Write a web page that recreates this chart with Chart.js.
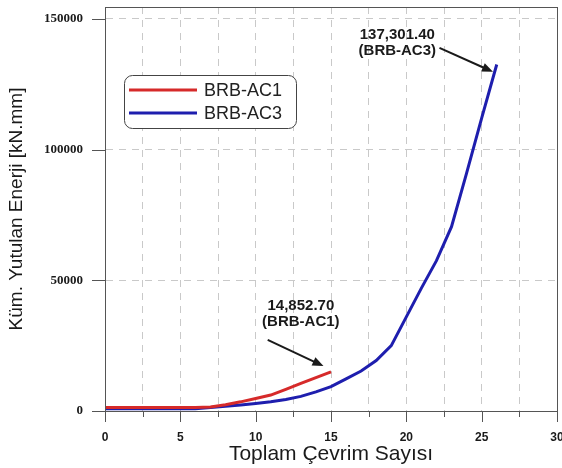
<!DOCTYPE html>
<html>
<head>
<meta charset="utf-8">
<script src="https://cdn.jsdelivr.net/npm/chart.js@4.4.0/dist/chart.umd.min.js"></script>
<style>
    html, body { margin: 0; padding: 0; background: #fff; }
    #wrap { width: 562px; height: 468px; }
</style>
</head>
<body>
<div id="wrap"><canvas id="energyChart" width="562" height="468"></canvas></div>
<script>
// values (kN.mm)
const cycles_ac1 = [0, 1, 2, 3, 4, 5, 6, 7, 8, 9, 10, 11, 12, 13, 14, 15]
const energy_ac1 = [1300, 1300, 1300, 1300, 1300, 1300, 1300, 1500, 2400, 3500, 4800, 6100, 8300, 10600, 12800, 15000]

const cycles_ac3 = [0, 1, 2, 3, 4, 5, 6, 7, 8, 9, 10, 11, 12, 13, 14, 15, 16, 17, 18, 19, 20, 21, 22, 23, 24, 25, 26]
const energy_ac3 = [900, 900, 900, 900, 900, 900, 900, 1300, 1800, 2300, 2900, 3500, 4400, 5600, 7300, 9300, 12300, 15300, 19300, 25000, 36000, 47000, 57500, 70500, 91000, 112000, 132500]

const series_names = ['BRB-AC1', 'BRB-AC3']
const x_ticks = [0, 5, 10, 15, 20, 25, 30]
const y_ticks = [0, 50000, 100000, 150000]
const final_labels = ['14,852.70', '137,301.40']

const RED = '#d62a2a'
const BLUE = '#1e1eae'
const FRAME = '#555555'
const GRID = '#c9c9c9'
const CLEAR = 'rgba(0,0,0,0)'

function toPoints(xs, ys) {
    return xs.map((x, i) => ({ x: x, y: ys[i] }))
}

function noEdgePadding(scale) {
    scale.paddingTop = 0
    scale.paddingBottom = 0
    scale.paddingLeft = 0
    scale.paddingRight = 0
}

// notes: text anchor and arrow ends in data units
const notes = [
    { lines: [final_labels[0], '(' + series_names[0] + ')'], textAt: [13.0, 40200], from: [10.8, 27200], to: [14.5, 17200] },
    { lines: [final_labels[1], '(' + series_names[1] + ')'], textAt: [19.4, 143900], from: [22.2, 138900], to: [25.75, 129700] },
]

const framePlugin = {
    id: 'frame',
    afterDraw(chart) {
        const { ctx, chartArea: a, scales: { x, y } } = chart
        ctx.save()
        ctx.strokeStyle = FRAME
        ctx.lineWidth = 1
        ctx.strokeRect(a.left + 0.5, a.top + 0.5, a.right - a.left, a.bottom - a.top)

        // tick marks, long on labelled values
        ctx.beginPath()
        for (let v = 0; v <= 30; v += 2.5) {
            const px = Math.round(x.getPixelForValue(v)) + 0.5
            const len = x_ticks.includes(v) ? 11 : 6
            ctx.moveTo(px, a.bottom)
            ctx.lineTo(px, a.bottom + len)
        }
        y_ticks.forEach(v => {
            const py = Math.round(y.getPixelForValue(v)) + 0.5
            ctx.moveTo(a.left - 13, py)
            ctx.lineTo(a.left, py)
        })
        ctx.stroke()

        // arrows and labels
        ctx.fillStyle = '#1a1a1a'
        ctx.strokeStyle = '#1a1a1a'
        ctx.font = 'bold 15px "Liberation Sans", Arial, sans-serif'
        ctx.textAlign = 'center'
        ctx.textBaseline = 'middle'
        notes.forEach(n => {
            const tx = x.getPixelForValue(n.textAt[0])
            const ty = y.getPixelForValue(n.textAt[1])
            n.lines.forEach((line, i) => ctx.fillText(line, tx, ty + i * 16))

            const x1 = x.getPixelForValue(n.from[0]), y1 = y.getPixelForValue(n.from[1])
            const x2 = x.getPixelForValue(n.to[0]), y2 = y.getPixelForValue(n.to[1])
            const ang = Math.atan2(y2 - y1, x2 - x1)
            const head = 11
            ctx.lineWidth = 2
            ctx.beginPath()
            ctx.moveTo(x1, y1)
            ctx.lineTo(x2 - Math.cos(ang) * head * 0.8, y2 - Math.sin(ang) * head * 0.8)
            ctx.stroke()
            ctx.beginPath()
            ctx.moveTo(x2, y2)
            ctx.lineTo(x2 - Math.cos(ang) * head + Math.sin(ang) * 4.5, y2 - Math.sin(ang) * head - Math.cos(ang) * 4.5)
            ctx.lineTo(x2 - Math.cos(ang) * head - Math.sin(ang) * 4.5, y2 - Math.sin(ang) * head + Math.cos(ang) * 4.5)
            ctx.closePath()
            ctx.fill()
        })

        // legend box inside the plot
        const bx = a.left + 19, by = a.top + 68, bw = 172, bh = 53, r = 8
        ctx.lineWidth = 1
        ctx.strokeStyle = '#444'
        ctx.fillStyle = '#fff'
        ctx.beginPath()
        ctx.roundRect(bx + 0.5, by + 0.5, bw, bh, r)
        ctx.fill()
        ctx.stroke()
        ctx.textAlign = 'left'
        ctx.font = '18px "Liberation Sans", Arial, sans-serif'
        chart.data.datasets.forEach((ds, i) => {
            const ly = by + 15 + i * 23
            ctx.strokeStyle = ds.borderColor
            ctx.lineWidth = 3
            ctx.beginPath()
            ctx.moveTo(bx + 5, ly)
            ctx.lineTo(bx + 73, ly)
            ctx.stroke()
            ctx.fillStyle = '#222'
            ctx.fillText(ds.label, bx + 80, ly + 1)
        })
        ctx.restore()
    }
}

const ctx = document.getElementById('energyChart').getContext('2d')
const energyChart = new Chart(ctx, {
    type: 'line',
    data: {
        datasets: [
            {
                label: series_names[0],
                data: toPoints(cycles_ac1, energy_ac1),
                borderColor: RED,
                borderWidth: 3,
                pointRadius: 0,
                tension: 0
            },
            {
                label: series_names[1],
                data: toPoints(cycles_ac3, energy_ac3),
                borderColor: BLUE,
                borderWidth: 3,
                pointRadius: 0,
                tension: 0
            }
        ]
    },
    options: {
        responsive: false,
        animation: false,
        layout: { padding: { top: 7, right: 5, left: 0, bottom: 0 } },
        plugins: {
            legend: { display: false },
            tooltip: { enabled: false }
        },
        scales: {
            x: {
                type: 'linear',
                min: 0,
                max: 30,
                afterFit: scale => { scale.height = 57; noEdgePadding(scale) },
                ticks: {
                    stepSize: 2.5,
                    padding: 2,
                    color: '#1a1a1a',
                    font: { family: '"Liberation Sans", Arial, sans-serif', size: 12, weight: 'bold' },
                    maxRotation: 0,
                    callback: v => x_ticks.includes(v) ? String(v) : ''
                },
                grid: { color: GRID, lineWidth: 1, drawTicks: true, tickLength: 17, tickColor: CLEAR },
                border: { color: FRAME, dash: [7, 6] },
                title: {
                    display: true,
                    text: 'Toplam Çevrim Sayısı',
                    color: '#1a1a1a',
                    font: { family: '"Liberation Sans", Arial, sans-serif', size: 21 },
                    padding: { top: 0, bottom: 1 }
                }
            },
            y: {
                min: 0,
                max: 154500,
                afterFit: scale => { scale.width = 105; noEdgePadding(scale) },
                afterBuildTicks: scale => {
                    scale.ticks = y_ticks.map(v => ({ value: v }))
                },
                ticks: {
                    padding: 2,
                    color: '#1a1a1a',
                    font: { family: '"Liberation Serif", "Times New Roman", serif', size: 13, weight: 'bold' },
                    callback: v => String(v)
                },
                grid: { color: GRID, lineWidth: 1, drawTicks: true, tickLength: 20, tickColor: CLEAR },
                border: { color: FRAME, dash: [7, 6] },
                title: {
                    display: true,
                    text: 'Küm. Yutulan Enerji [kN.mm]',
                    color: '#1a1a1a',
                    font: { family: '"Liberation Sans", Arial, sans-serif', size: 19 },
                    padding: { top: 5, bottom: 0 }
                }
            }
        }
    },
    plugins: [framePlugin]
})
</script>
</body>
</html>
